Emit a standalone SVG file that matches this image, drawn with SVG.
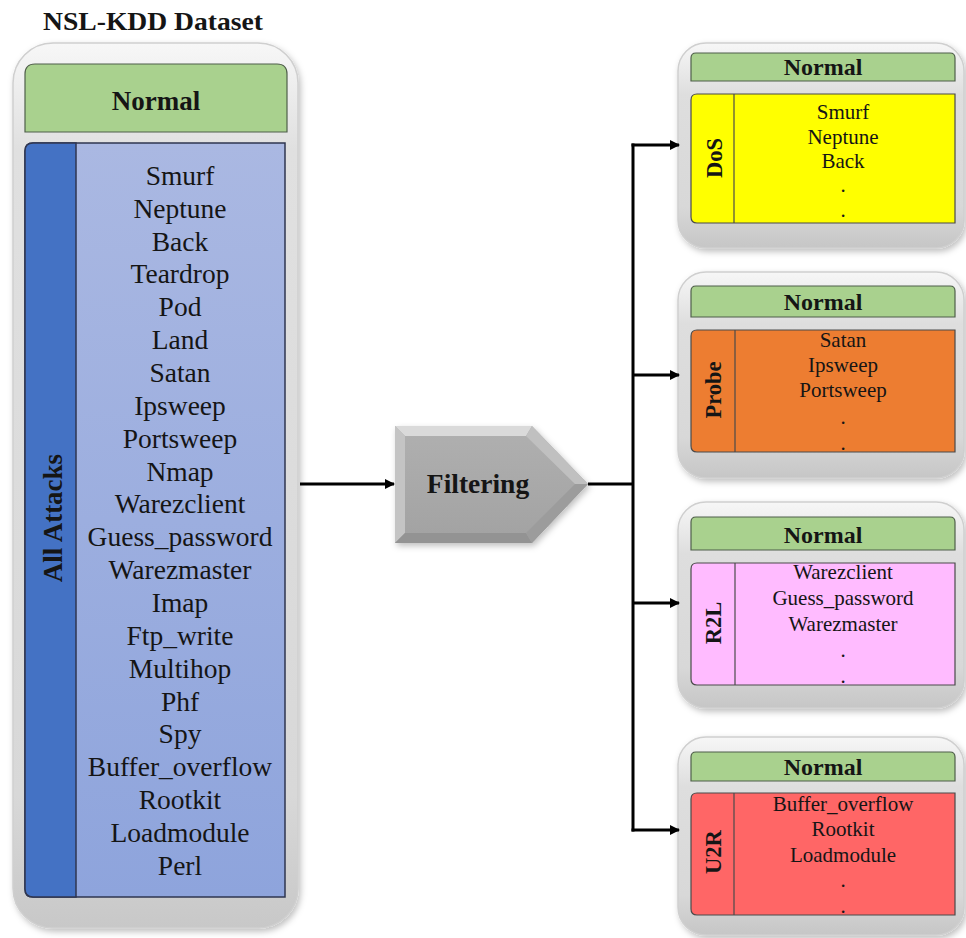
<svg xmlns="http://www.w3.org/2000/svg" width="966" height="938" viewBox="0 0 966 938">
  <defs>
    <linearGradient id="frameGrad" x1="0" y1="0" x2="0" y2="1">
      <stop offset="0" stop-color="#f7f7f7"/>
      <stop offset="0.12" stop-color="#e0e0e0"/>
      <stop offset="0.85" stop-color="#d8d8d8"/>
      <stop offset="1" stop-color="#c8c8c8"/>
    </linearGradient>
    <linearGradient id="frameGradSmall" x1="0" y1="0" x2="0" y2="1">
      <stop offset="0" stop-color="#f7f7f7"/>
      <stop offset="0.25" stop-color="#dedede"/>
      <stop offset="0.8" stop-color="#d8d8d8"/>
      <stop offset="1" stop-color="#c6c6c6"/>
    </linearGradient>
    <linearGradient id="listGrad" x1="0" y1="0" x2="0" y2="1">
      <stop offset="0" stop-color="#aab8e2"/>
      <stop offset="1" stop-color="#8ea4dc"/>
    </linearGradient>
    <linearGradient id="faceGrad" x1="0" y1="0" x2="0" y2="1">
      <stop offset="0" stop-color="#b0b0b0"/>
      <stop offset="1" stop-color="#a2a2a2"/>
    </linearGradient>
    <filter id="shadow" x="-10%" y="-10%" width="125%" height="125%">
      <feDropShadow dx="2" dy="3" stdDeviation="3" flood-color="#000" flood-opacity="0.25"/>
    </filter>
    <marker id="arrow" markerWidth="10" markerHeight="10" refX="9" refY="5" orient="auto" markerUnits="userSpaceOnUse">
      <path d="M0,0 L10,5 L0,10 Z" fill="#000"/>
    </marker>
    <style>
      .frame { stroke: #cfcfcf; stroke-width: 1.5; filter: url(#shadow); }
      .normal { fill: #a9d18e; stroke: #4f5f4a; stroke-width: 1.2; }
      .box { stroke: #4a4a4a; stroke-width: 1.2; }
      .div { stroke: #4a4a4a; stroke-width: 1.2; }
      .t { font-family: "Liberation Serif", "Times New Roman", serif; fill: #151515; text-anchor: middle; }
      .b { font-weight: bold; }
      .big { font-size: 27.5px; }
      .small { font-size: 21px; }
      .conn { fill: none; stroke: #000; stroke-width: 3; }
    </style>
  </defs>

  <rect width="966" height="938" fill="#ffffff"/>

  <!-- title -->
  <text class="t b" x="153" y="30" font-size="26" textLength="220" lengthAdjust="spacingAndGlyphs">NSL-KDD Dataset</text>

  <!-- dataset panel -->
  <g id="dataset">
    <rect class="frame" x="13" y="43" width="285" height="885" rx="40" fill="url(#frameGrad)"/>
    <path class="normal" d="M35,64 H277 Q287,64 287,74 V132 H25 V74 Q25,64 35,64 Z"/>
    <text class="t b" x="156" y="110" font-size="27">Normal</text>
    <path d="M33,143 H285 V897 H33 Q25,897 25,889 V151 Q25,143 33,143 Z" fill="url(#listGrad)" stroke="#2f3650" stroke-width="1.5"/>
    <path d="M33,143 H76 V897 H33 Q25,897 25,889 V151 Q25,143 33,143 Z" fill="#4472c4" stroke="#2f3650" stroke-width="1.5"/>
    <text class="t b" transform="translate(62,518) rotate(-90)" font-size="27" fill="#10122a">All Attacks</text>
    <g class="t big">
      <text x="180" y="185">Smurf</text>
      <text x="180" y="218">Neptune</text>
      <text x="180" y="251">Back</text>
      <text x="180" y="283">Teardrop</text>
      <text x="180" y="316">Pod</text>
      <text x="180" y="349">Land</text>
      <text x="180" y="382">Satan</text>
      <text x="180" y="415">Ipsweep</text>
      <text x="180" y="448">Portsweep</text>
      <text x="180" y="481">Nmap</text>
      <text x="180" y="513">Warezclient</text>
      <text x="180" y="546">Guess_password</text>
      <text x="180" y="579">Warezmaster</text>
      <text x="180" y="612">Imap</text>
      <text x="180" y="645">Ftp_write</text>
      <text x="180" y="678">Multihop</text>
      <text x="180" y="711">Phf</text>
      <text x="180" y="743">Spy</text>
      <text x="180" y="776">Buffer_overflow</text>
      <text x="180" y="809">Rootkit</text>
      <text x="180" y="842">Loadmodule</text>
      <text x="180" y="875">Perl</text>
    </g>
  </g>

  <!-- filtering step: bevelled pentagon -->
  <g id="filtering">
    <polygon points="395,426 532,426 588,484 532,543 395,543" fill="url(#faceGrad)" filter="url(#shadow)"/>
    <polygon points="395,426 532,426 526,436 405,436" fill="#dadada"/>
    <polygon points="395,426 405,436 405,533 395,543" fill="#c4c4c4"/>
    <polygon points="395,543 405,533 526,533 532,543" fill="#939393"/>
    <polygon points="532,426 588,484 575,484 526,436" fill="#c0c0c0"/>
    <polygon points="588,484 532,543 526,533 575,484" fill="#9c9c9c"/>
    <text class="t b" x="478" y="493" font-size="27.5" fill="#0d0d0d">Filtering</text>
  </g>

  <!-- DoS -->
  <g id="dos">
    <rect class="frame" x="678" y="43" width="286" height="205" rx="28" fill="url(#frameGradSmall)"/>
    <path class="normal" d="M696,53 H950 Q955,53 955,58 V81 H691 V58 Q691,53 696,53 Z"/>
    <text class="t b" x="823" y="75" font-size="24">Normal</text>
    <path class="box" d="M697,94 H955 V223 H697 Q691,223 691,217 V100 Q691,94 697,94 Z" fill="#ffff00"/>
    <line class="div" x1="734" y1="94" x2="734" y2="223"/>
    <text class="t b" transform="translate(722,158) rotate(-90)" font-size="22.5">DoS</text>
    <g class="t small">
      <text x="843" y="119">Smurf</text>
      <text x="843" y="144">Neptune</text>
      <text x="843" y="168">Back</text>
      <text x="843" y="192">.</text>
      <text x="843" y="217">.</text>
    </g>
  </g>

  <!-- Probe -->
  <g id="probe">
    <rect class="frame" x="678" y="272" width="286" height="206" rx="28" fill="url(#frameGradSmall)"/>
    <path class="normal" d="M696,286 H950 Q955,286 955,291 V317 H691 V291 Q691,286 696,286 Z"/>
    <text class="t b" x="823" y="310" font-size="24">Normal</text>
    <path class="box" d="M697,330 H955 V452 H697 Q691,452 691,446 V336 Q691,330 697,330 Z" fill="#ed7d31"/>
    <line class="div" x1="735" y1="330" x2="735" y2="452"/>
    <text class="t b" transform="translate(721,390) rotate(-90)" font-size="22.5">Probe</text>
    <g class="t small">
      <text x="843" y="347">Satan</text>
      <text x="843" y="372">Ipsweep</text>
      <text x="843" y="397">Portsweep</text>
      <text x="843" y="424">.</text>
      <text x="843" y="450">.</text>
    </g>
  </g>

  <!-- R2L -->
  <g id="r2l">
    <rect class="frame" x="678" y="502" width="286" height="206" rx="28" fill="url(#frameGradSmall)"/>
    <path class="normal" d="M696,517 H950 Q955,517 955,522 V550 H691 V522 Q691,517 696,517 Z"/>
    <text class="t b" x="823" y="543" font-size="24">Normal</text>
    <path class="box" d="M697,563 H955 V685 H697 Q691,685 691,679 V569 Q691,563 697,563 Z" fill="#ffbbff"/>
    <line class="div" x1="735" y1="563" x2="735" y2="685"/>
    <text class="t b" transform="translate(721,623) rotate(-90)" font-size="22.5">R2L</text>
    <g class="t small">
      <text x="843" y="579">Warezclient</text>
      <text x="843" y="605">Guess_password</text>
      <text x="843" y="631">Warezmaster</text>
      <text x="843" y="657">.</text>
      <text x="843" y="683">.</text>
    </g>
  </g>

  <!-- U2R -->
  <g id="u2r">
    <rect class="frame" x="678" y="737" width="286" height="198" rx="28" fill="url(#frameGradSmall)"/>
    <path class="normal" d="M696,752 H950 Q955,752 955,757 V781 H691 V757 Q691,752 696,752 Z"/>
    <text class="t b" x="823" y="775" font-size="24">Normal</text>
    <path class="box" d="M697,793 H955 V915 H697 Q691,915 691,909 V799 Q691,793 697,793 Z" fill="#ff6666"/>
    <line class="div" x1="734" y1="793" x2="734" y2="915"/>
    <text class="t b" transform="translate(721,852) rotate(-90)" font-size="22.5">U2R</text>
    <g class="t small">
      <text x="843" y="811">Buffer_overflow</text>
      <text x="843" y="836">Rootkit</text>
      <text x="843" y="862">Loadmodule</text>
      <text x="843" y="887">.</text>
      <text x="843" y="913">.</text>
    </g>
  </g>

  <!-- connectors -->
  <g id="connectors">
    <line class="conn" x1="300" y1="484" x2="394" y2="484" marker-end="url(#arrow)"/>
    <line class="conn" x1="588" y1="484" x2="633" y2="484"/>
    <line class="conn" x1="633" y1="143.5" x2="633" y2="831.5"/>
    <line class="conn" x1="631.5" y1="145" x2="679" y2="145" marker-end="url(#arrow)"/>
    <line class="conn" x1="633" y1="375" x2="679" y2="375" marker-end="url(#arrow)"/>
    <line class="conn" x1="633" y1="603" x2="679" y2="603" marker-end="url(#arrow)"/>
    <line class="conn" x1="631.5" y1="830" x2="679" y2="830" marker-end="url(#arrow)"/>
  </g>
</svg>
